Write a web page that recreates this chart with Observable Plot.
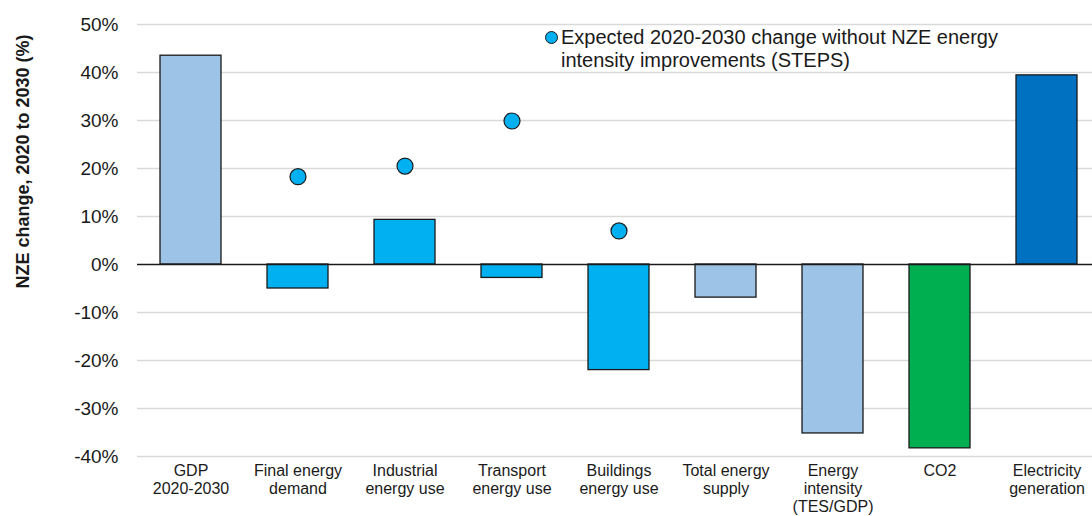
<!DOCTYPE html>
<html><head><meta charset="utf-8">
<script src="https://cdn.jsdelivr.net/npm/d3@7"></script>
<script src="https://cdn.jsdelivr.net/npm/@observablehq/plot@0.6"></script>
<style>
html,body{margin:0;padding:0;background:#fff;overflow:hidden;}
#wrap{position:relative;width:1092px;height:516px;font-family:"Liberation Sans",Arial,sans-serif;}
#legend{position:absolute;left:545px;top:26px;font-size:20px;line-height:23px;color:#1a1a1a;display:flex;align-items:flex-start;}
#legend .sw{width:11px;height:11px;border-radius:50%;background:#00B0F0;border:1px solid #1a1a1a;margin-top:5px;margin-right:3px;flex:none;}
</style></head>
<body><div id="wrap"><div id="chart"></div><div id="legend"><div class="sw"></div><div>Expected 2020-2030 change without NZE energy<br>intensity improvements (STEPS)</div></div></div>
<script>
const categories = ["GDP\n2020-2030","Final energy\ndemand","Industrial\nenergy use","Transport\nenergy use","Buildings\nenergy use","Total energy\nsupply","Energy\nintensity\n(TES/GDP)","CO2","Electricity\ngeneration"];
const nzeChange = [43.5, -5.0, 9.3, -2.8, -22.0, -6.9, -35.2, -38.3, 39.4];
const barColors = ["#9DC3E6","#00B0F0","#00B0F0","#00B0F0","#00B0F0","#9DC3E6","#9DC3E6","#00B050","#0070C0"];
const stepsCategories = ["Final energy\ndemand","Industrial\nenergy use","Transport\nenergy use","Buildings\nenergy use"];
const stepsChange = [18.3, 20.5, 29.9, 7.0];
const yTicks = [-40,-30,-20,-10,0,10,20,30,40,50];

const bars = categories.map((c,i)=>({cat:c, v:nzeChange[i], color:barColors[i]}));
const dots = stepsCategories.map((c,i)=>({cat:c, v:stepsChange[i]}));

const chart = Plot.plot({
  width: 1092, height: 516,
  marginLeft: 137, marginRight: 0, marginTop: 24, marginBottom: 60,
  style: {fontFamily: '"Liberation Sans", Arial, sans-serif', color: "#1a1a1a", background: "#fff"},
  x: {domain: categories, range: [136.5, 1100.5], paddingInner: 0.43, paddingOuter: 0.215},
  y: {domain: [-40, 50]},
  marks: [
    Plot.ruleY(yTicks.filter(d=>d!==0), {stroke: "#d9d9d9", strokeWidth: 1.3}),
    Plot.barY(bars, {x: "cat", y: "v", fill: "color", stroke: "#1a1a1a", strokeWidth: 1.3}),
    Plot.ruleY([0], {stroke: "#1a1a1a", strokeWidth: 1.5}),
    Plot.dot(dots, {x: "cat", y: "v", r: 8, fill: "#00B0F0", stroke: "#1a1a1a", strokeWidth: 1.2}),
    Plot.axisY({ticks: yTicks, tickFormat: d => d + "%", tickSize: 0, tickPadding: 19, fontSize: 19, label: null}),
    Plot.axisX({tickSize: 0, tickPadding: 7, fontSize: 16, lineHeight: 1.13, label: null}),
    Plot.text(["NZE change, 2020 to 2030 (%)"], {frameAnchor: "left", textAnchor: "middle", dx: -114, dy: -79, rotate: -90, fontSize: 18, fontWeight: "bold", fill: "#1a1a1a"})
  ]
});
document.getElementById("chart").appendChild(chart);
</script></body></html>
